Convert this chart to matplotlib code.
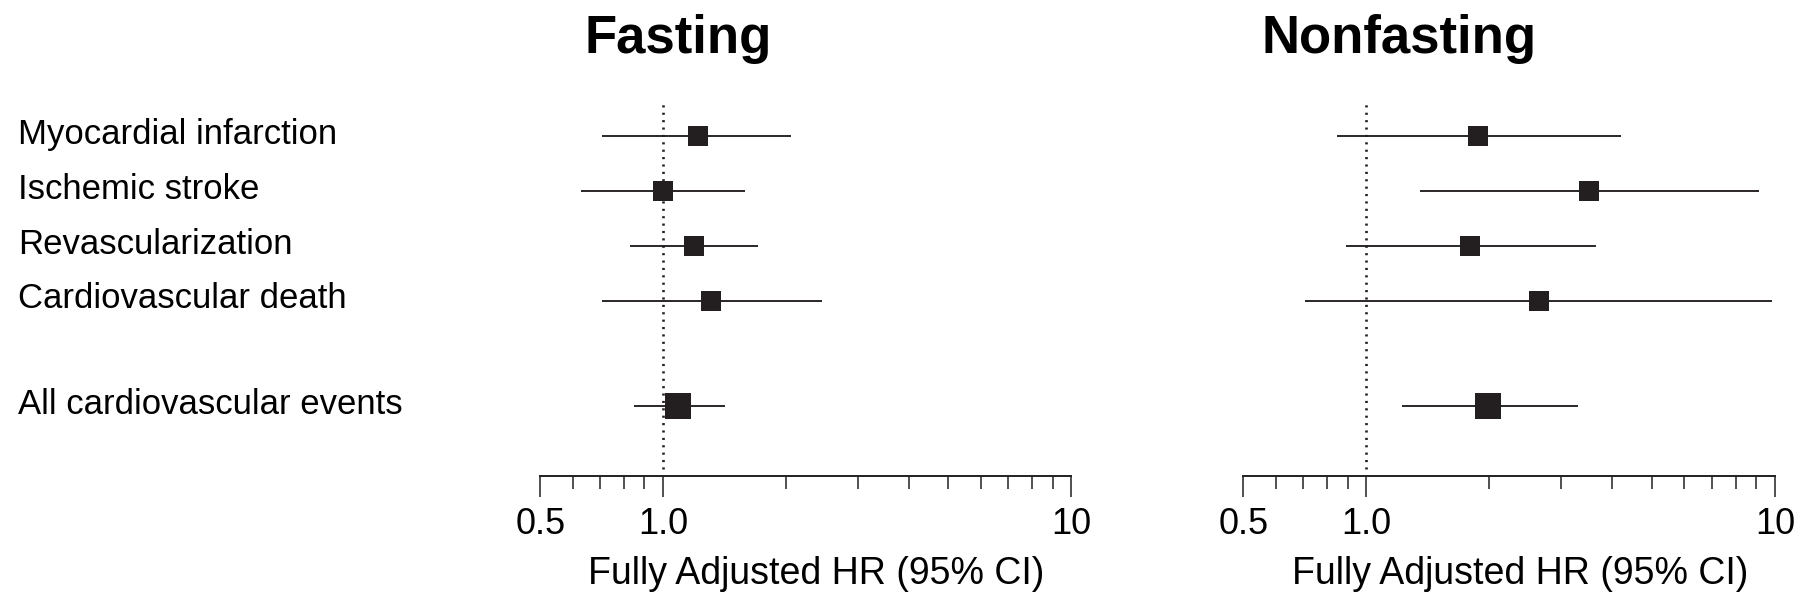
import matplotlib
matplotlib.use("Agg")
import matplotlib.pyplot as plt
import matplotlib.transforms as mtransforms
from matplotlib.ticker import FixedLocator, NullFormatter

plt.rcParams['font.family'] = ['Liberation Sans', 'DejaVu Sans']

# ---- data ----
outcomes = ["Myocardial infarction", "Ischemic stroke", "Revascularization",
            "Cardiovascular death", "All cardiovascular events"]
panel_titles = ["Fasting", "Nonfasting"]

fasting_hr = [1.22, 1.00, 1.19, 1.31, 1.09]
fasting_lo = [0.71, 0.63, 0.83, 0.71, 0.85]
fasting_hi = [2.06, 1.59, 1.71, 2.45, 1.42]

nonfasting_hr = [1.88, 3.50, 1.79, 2.65, 1.99]
nonfasting_lo = [0.85, 1.35, 0.89, 0.71, 1.22]
nonfasting_hi = [4.19, 9.15, 3.64, 9.80, 3.30]

major_ticks = [0.5, 1.0, 10]
major_labels = ["0.5", "1.0", "10"]
minor_ticks = [0.6, 0.7, 0.8, 0.9, 2, 3, 4, 5, 6, 7, 8, 9]
xlabel = "Fully Adjusted HR (95% CI)"

# ---- layout ----
W, H = 1800, 602
fig = plt.figure(figsize=(W / 100, H / 100), dpi=100)
fig.patch.set_facecolor("white")

ypos = [0, 1, 2, 3, 4.93]
ax_bottom_px, ax_top_px = 475.7, 101.7
row0_px, row_step = 136.3, 54.8
ylim_top = (ax_top_px - row0_px) / row_step
ylim_bot = (ax_bottom_px - row0_px) / row_step

axes_px = [(540.2, 1071.4), (1243.2, 1775.2)]
dark = "#231f20"

series = [(fasting_hr, fasting_lo, fasting_hi),
          (nonfasting_hr, nonfasting_lo, nonfasting_hi)]
title_x = [678.3, 1399.2]

axes = []
for (x0, x1), (hr, lo, hi), title, tx in zip(axes_px, series, panel_titles, title_x):
    ax = fig.add_axes([x0 / W, (H - ax_bottom_px) / H, (x1 - x0) / W,
                       (ax_bottom_px - ax_top_px) / H])
    ax.set_xscale("log")
    ax.set_xlim(0.5, 10)
    ax.set_ylim(ylim_bot, ylim_top)
    for s in ["top", "right", "left"]:
        ax.spines[s].set_visible(False)
    ax.spines["bottom"].set_linewidth(1.4)
    ax.spines["bottom"].set_color(dark)
    ax.set_yticks([])
    ax.xaxis.set_major_locator(FixedLocator(major_ticks))
    ax.set_xticklabels(major_labels)
    ax.xaxis.set_minor_locator(FixedLocator(minor_ticks))
    ax.xaxis.set_minor_formatter(NullFormatter())
    ax.tick_params(axis="x", which="major", length=15.3, width=1.1, color=dark,
                   labelsize=26, pad=7, labelcolor="black")
    ax.tick_params(axis="x", which="minor", length=9.0, width=1.1, color=dark)
    ax.set_xlabel(xlabel, fontsize=27, labelpad=20)
    ax.xaxis.set_label_coords(0.52, -0.215)
    ax.xaxis.label.set_verticalalignment("top")
    ax.patch.set_alpha(0)

    ax.axvline(1.0, ymin=0.018, ymax=1.0, color=dark, linewidth=1.9,
               linestyle=(0, (0.8, 2.0)), zorder=1)

    for i, (h, l, u) in enumerate(zip(hr, lo, hi)):
        ax.plot([l, u], [ypos[i], ypos[i]], color=dark, linewidth=1.35,
                solid_capstyle="butt", zorder=2)
        ms = 19 if i == len(hr) - 1 else 14.4
        ax.plot([h], [ypos[i]], marker="s", markersize=ms, color=dark,
                markeredgewidth=0, linestyle="none", zorder=3)

    fig.text(tx / W, (H - 53.3) / H, title, ha="center", va="baseline",
             fontsize=38, fontweight="bold", color="black")
    axes.append(ax)

# row labels
ax0 = axes[0]
trans = mtransforms.blended_transform_factory(fig.transFigure, ax0.transData)
trans = mtransforms.offset_copy(trans, fig=fig, x=0, y=-7.7, units="dots")
for i, name in enumerate(outcomes):
    fig.text(18 / W, ypos[i], name, transform=trans, ha="left", va="baseline",
             fontsize=25, color="black")

fig.savefig("out.png", dpi=100, facecolor="white")
